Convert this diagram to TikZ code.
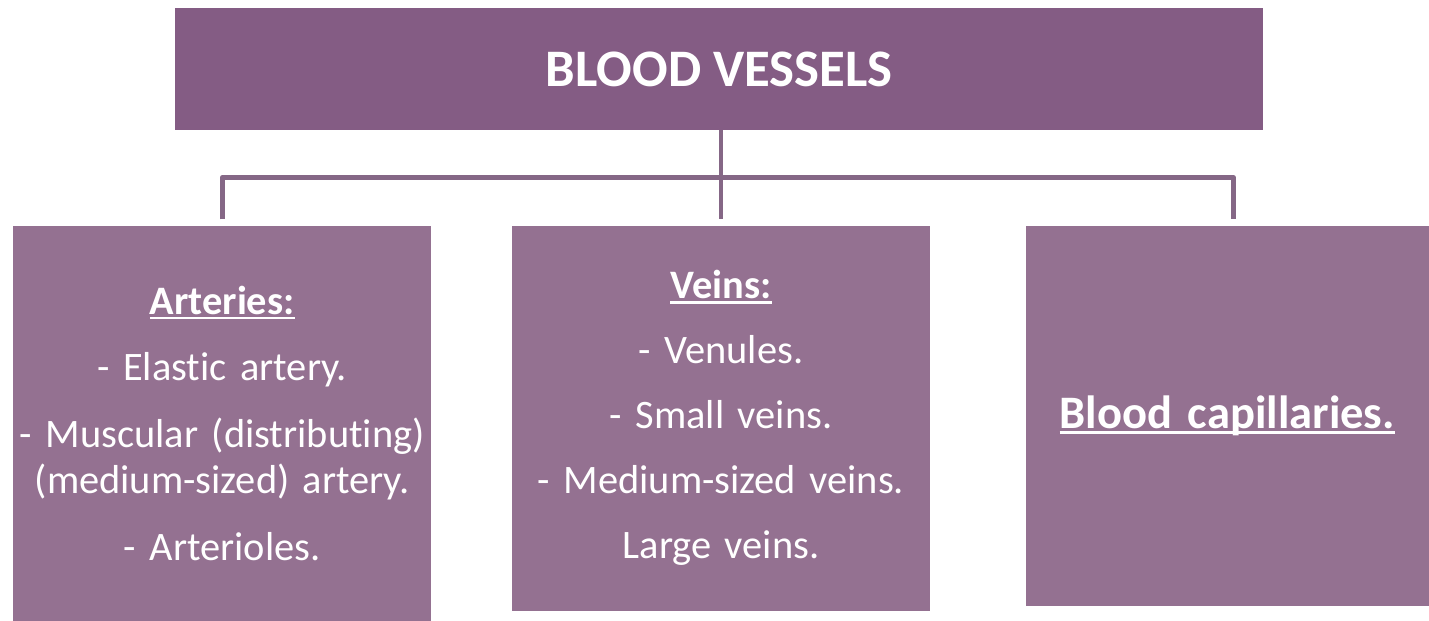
\documentclass[tikz,border=0pt]{standalone}
\usepackage{fontspec}
\setmainfont[Ligatures=NoCommon]{Carlito}
\usepackage{tikz}
\usetikzlibrary{positioning,calc}
\definecolor{plumdark}{HTML}{845C84}
\definecolor{plumbox}{HTML}{947191}
\definecolor{plumline}{HTML}{856786}
\newcommand{\hdr}[1]{{\bfseries\setbox0\hbox{#1}\rlap{\rule[-0.13em]{\wd0}{0.065em}}\box0}}

\begin{document}
\begin{tikzpicture}[
  top/.style={fill=plumdark,text=white,minimum width=21.76cm,minimum height=2.44cm,
    font=\fontsize{30}{34}\selectfont\bfseries},
  box/.style={fill=plumbox,text=white,text width=8.36cm,align=center,inner sep=0pt,
    font=\fontsize{23}{26}\selectfont},
  link/.style={draw=plumline,line width=2.8pt,line join=round}]
\useasboundingbox (0,0) rectangle (28.58,12.4);
\node[top] (vessels) at (14.38,11.02) {BLOOD VESSELS};
\node[box,minimum height=7.7cm,below=1.9cm of vessels.south,anchor=north,xshift=0.04cm] (veins)
  {\hdr{Veins:}\\[11pt] - Venules.\\[11pt] - Small veins.\\[11pt] - Medium-sized veins.\\[11pt] Large veins.};
\node[box,minimum height=7.9cm,left=1.6cm of veins.north west,anchor=north east] (arteries)
  {\hdr{Arteries:}\\[12pt] - Elastic artery.\\[12pt] \mbox{- Muscular (distributing)}\\ (medium-sized) artery.\\[12pt] - Arterioles.};
\node[box,text width=8.06cm,minimum height=7.6cm,right=1.9cm of veins.north east,anchor=north west,
  font=\fontsize{26.5}{30}\selectfont] (capillaries) {\hdr{Blood capillaries.}};
\coordinate (bus) at ($(vessels.south -| veins.north)+(0,-0.94)$);
\draw[link] (vessels.south -| veins.north) -- (bus) -- ([yshift=0.12cm]veins.north);
\draw[link,shorten <=0.12cm,shorten >=0.12cm] (arteries.north) |- (bus) -| ([xshift=0.12cm]capillaries.north);
\end{tikzpicture}
\end{document}
